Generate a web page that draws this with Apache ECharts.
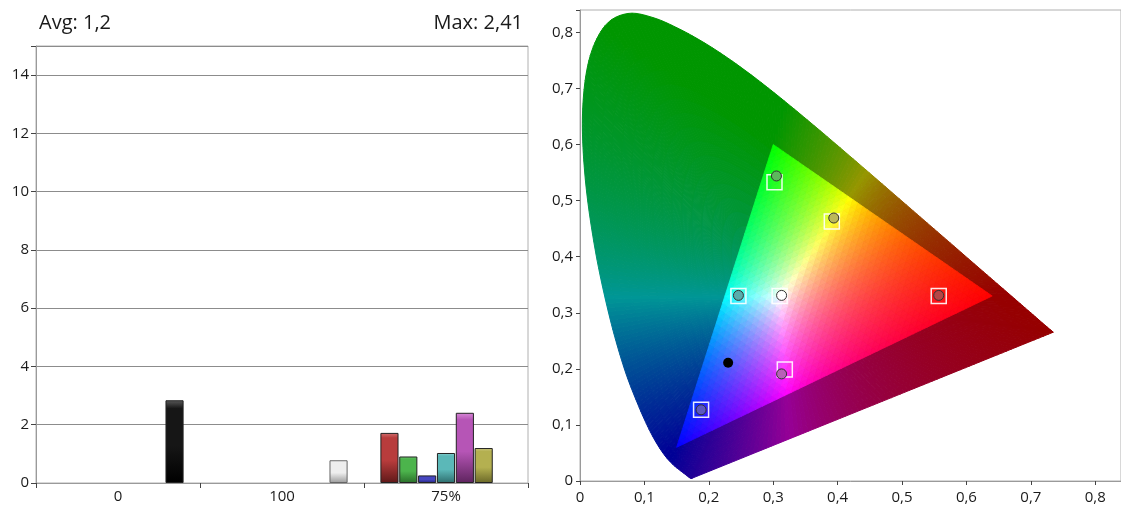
<!DOCTYPE html>
<html><head><meta charset="utf-8">
<script src="https://cdn.jsdelivr.net/npm/echarts@6/dist/echarts.min.js"></script>
<style>html,body{margin:0;padding:0;background:#fff}#c{width:1121px;height:507px}</style>
</head><body><div id="c"></div>
<script>
// ---------------- DATA ----------------
const avgText = 'Avg: 1,2';
const maxText = 'Max: 2,41';
const barCategories = ['0', '100', '75%'];
const barYMax = 15;
const redValues     = ['-', '-', 1.72];
const greenValues   = ['-', '-', 0.91];
const blueValues    = ['-', '-', 0.26];
const cyanValues    = ['-', '-', 1.03];
const magentaValues = ['-', '-', 2.41];
const yellowValues  = ['-', '-', 1.20];
const grayValues    = [2.84, 0.78, '-'];

// CIE 1931 spectral locus, 380..700 nm step 5
const locusX = [0.1741,0.1740,0.1738,0.1736,0.1733,0.1730,0.1726,0.1721,0.1714,0.1703,0.1689,0.1669,0.1644,0.1611,0.1566,0.1510,0.1440,0.1355,0.1241,0.1096,0.0913,0.0687,0.0454,0.0235,0.0082,0.0039,0.0139,0.0389,0.0743,0.1142,0.1547,0.1929,0.2296,0.2658,0.3016,0.3373,0.3731,0.4087,0.4441,0.4788,0.5125,0.5448,0.5752,0.6029,0.6270,0.6482,0.6658,0.6801,0.6915,0.7006,0.7079,0.7140,0.7190,0.7230,0.7260,0.7283,0.7300,0.7311,0.7320,0.7327,0.7334,0.7340,0.7344,0.7346,0.7347];
const locusY = [0.0050,0.0050,0.0049,0.0049,0.0048,0.0048,0.0048,0.0048,0.0051,0.0058,0.0069,0.0086,0.0109,0.0138,0.0177,0.0227,0.0297,0.0399,0.0578,0.0868,0.1327,0.2007,0.2950,0.4127,0.5384,0.6548,0.7502,0.8120,0.8338,0.8262,0.8059,0.7816,0.7543,0.7243,0.6923,0.6589,0.6245,0.5896,0.5547,0.5202,0.4866,0.4544,0.4242,0.3965,0.3725,0.3514,0.3340,0.3197,0.3083,0.2993,0.2920,0.2859,0.2809,0.2770,0.2740,0.2717,0.2700,0.2689,0.2680,0.2673,0.2666,0.2660,0.2656,0.2654,0.2653];
const gamutX = [0.64, 0.30, 0.15];   // R, G, B primaries
const gamutY = [0.33, 0.60, 0.06];
const whiteX = 0.3127, whiteY = 0.3290;

// targets: R, G, B, C, M, Y, W
const targetX = [0.557, 0.302, 0.188, 0.246, 0.318, 0.391, 0.310];
const targetY = [0.330, 0.533, 0.127, 0.330, 0.199, 0.463, 0.330];
// measured
const measX = [0.557, 0.305, 0.188, 0.246, 0.313, 0.394, 0.313];
const measY = [0.331, 0.544, 0.127, 0.331, 0.191, 0.469, 0.331];
const blackX = [0.230];
const blackY = [0.211];

// ---------------- STYLE ----------------
const FONT = 'Open Sans';
const TXT = '#1a1a1a';
const barStyles = [
  ['#d27070', '#b83c3c', '#5e1818'],
  ['#74c874', '#4cb44c', '#2a6e2a'],
  ['#7070d8', '#4646c0', '#22227a'],
  ['#8ad0d0', '#5bb8b8', '#2e6e6e'],
  ['#d88ad8', '#b655b6', '#5e245e'],
  ['#cec880', '#b4b050', '#6a6828']
];
const grayStyles = [['#5a5a5a', '#161616', '#000000'], ['#ffffff', '#eeeeee', '#9a9a9a'], ['#fff', '#fff', '#fff']];
const grayBorders = ['#222', '#666', '#222'];
const measColors = ['#b44646', '#5cb85c', '#5c58c0', '#5aacac', '#b860b8', '#bcb85a', '#ffffff'];

function grad(s) {
  return new echarts.graphic.LinearGradient(0, 0, 0, 1, [
    {offset: 0, color: s[0]}, {offset: 0.1, color: s[1]},
    {offset: 0.55, color: s[1]}, {offset: 1, color: s[2]}]);
}

function xyColor(x, y, dark) {
  const X = x / y, Y = 1, Z = (1 - x - y) / y;
  let r = 3.2406 * X - 1.5372 * Y - 0.4986 * Z;
  let g = -0.9689 * X + 1.8758 * Y + 0.0415 * Z;
  let b = 0.0557 * X - 0.2040 * Y + 1.0570 * Z;
  r = Math.max(r, 0); g = Math.max(g, 0); b = Math.max(b, 0);
  const m = Math.max(r, g, b) || 1;
  const e = dark ? 0.85 : 0.9, f = dark ? 0.59 : 1;
  const c = v => Math.round(255 * f * Math.pow(v / m, e));
  return 'rgb(' + c(r) + ',' + c(g) + ',' + c(b) + ')';
}

// smooth boundary sampling (Catmull-Rom through the locus points)
function crPoint(p0, p1, p2, p3, t) {
  const t2 = t * t, t3 = t2 * t;
  return [0, 1].map(k => 0.5 * ((2 * p1[k]) + (-p0[k] + p2[k]) * t +
    (2 * p0[k] - 5 * p1[k] + 4 * p2[k] - p3[k]) * t2 + (-p0[k] + 3 * p1[k] - 3 * p2[k] + p3[k]) * t3));
}

function gamutRender(params, api) {
  const children = [];
  const W = [whiteX, whiteY];
  const pts = locusX.map((x, i) => [x, locusY[i]]);
  const bnd = [];
  const L = pts.length;
  for (let i = 0; i < L - 1; i++) {
    const p0 = pts[Math.max(i - 1, 0)], p1 = pts[i], p2 = pts[i + 1], p3 = pts[Math.min(i + 2, L - 1)];
    const d = Math.hypot(p2[0] - p1[0], p2[1] - p1[1]);
    if (d < 1e-6) continue;
    const n = Math.max(1, Math.ceil(d / 0.008));
    for (let s = 0; s < n; s++) bnd.push(crPoint(p0, p1, p2, p3, s / n));
  }
  // purple line back to start
  const a = pts[L - 1], c = pts[0];
  const dp = Math.hypot(c[0] - a[0], c[1] - a[1]);
  const np = Math.ceil(dp / 0.008);
  for (let s = 0; s < np; s++) bnd.push([a[0] + (c[0] - a[0]) * s / np, a[1] + (c[1] - a[1]) * s / np]);
  bnd.push(bnd[0]);
  const rings = [0, 0.2];
  for (let t = 0.25; t <= 1.0001; t += 0.05) rings.push(Math.min(t, 1));
  const lerp = (p, t) => [W[0] + (p[0] - W[0]) * t, W[1] + (p[1] - W[1]) * t];
  for (let i = 0; i < bnd.length - 1; i++) {
    const A = bnd[i], C = bnd[i + 1];
    const M = [(A[0] + C[0]) / 2, (A[1] + C[1]) / 2];
    for (let k = 0; k < rings.length - 1; k++) {
      const t0 = rings[k], t1 = rings[k + 1];
      const cp = lerp(M, (t0 + t1) / 2);
      const col = xyColor(cp[0], cp[1], true);
      children.push({type: 'polygon', silent: true,
        shape: {points: [lerp(A, t0), lerp(A, t1), lerp(C, t1), lerp(C, t0)].map(p => api.coord(p))},
        style: {fill: col, stroke: col, lineWidth: 1}});
    }
  }
  // gamut triangle
  const R = [gamutX[0], gamutY[0]], G = [gamutX[1], gamutY[1]], B = [gamutX[2], gamutY[2]];
  const N = 44;
  const P = (i, j) => [B[0] + (R[0] - B[0]) * i / N + (G[0] - B[0]) * j / N,
                       B[1] + (R[1] - B[1]) * i / N + (G[1] - B[1]) * j / N];
  const tri = (a, b, c) => {
    const cx = (a[0] + b[0] + c[0]) / 3, cy = (a[1] + b[1] + c[1]) / 3;
    const col = xyColor(cx, cy, false);
    children.push({type: 'polygon', silent: true,
      shape: {points: [a, b, c].map(p => api.coord(p))},
      style: {fill: col, stroke: col, lineWidth: 0.8}});
  };
  for (let i = 0; i < N; i++) {
    for (let j = 0; j < N - i; j++) {
      tri(P(i, j), P(i + 1, j), P(i, j + 1));
      if (i + j < N - 1) tri(P(i + 1, j), P(i + 1, j + 1), P(i, j + 1));
    }
  }
  return {type: 'group', children};
}

const fmtDec = v => {
  if (Math.abs(v * 10 - Math.round(v * 10)) > 1e-6) return '';
  return v === 0 ? '0' : v.toFixed(1).replace('.', ',');
};

const barData = [redValues, greenValues, blueValues, cyanValues, magentaValues, yellowValues];
const barSeries = barData.map((vals, i) => ({
  type: 'bar', xAxisIndex: 0, yAxisIndex: 0, data: vals,
  barGap: '4%', barCategoryGap: '20%',
  itemStyle: {color: grad(barStyles[i]), borderColor: '#222', borderWidth: 1}
}));
barSeries.push({
  type: 'bar', xAxisIndex: 0, yAxisIndex: 0,
  data: grayValues.map((v, i) => ({value: v, itemStyle: {color: grad(grayStyles[i]), borderColor: grayBorders[i], borderWidth: 1}})),
  barGap: '4%', barCategoryGap: '20%'
});

const axisLbl = {color: TXT, fontFamily: FONT, fontSize: 15};
const option = {
  animation: false,
  backgroundColor: '#fff',
  title: [
    {text: avgText, left: 34, top: 8, textStyle: {color: TXT, fontFamily: FONT, fontSize: 20, fontWeight: 'normal'}},
    {text: maxText, right: 593, top: 8, textStyle: {color: TXT, fontFamily: FONT, fontSize: 20, fontWeight: 'normal'}}
  ],
  grid: [
    {left: 36, top: 46, width: 492, height: 437, show: true, borderColor: '#b0b0b0', borderWidth: 1, outerBoundsMode: 'none', containLabel: false},
    {left: 580, top: 10, width: 541, height: 471, show: true, borderColor: '#b0b0b0', borderWidth: 1, outerBoundsMode: 'none', containLabel: false}
  ],
  xAxis: [
    {gridIndex: 0, type: 'category', data: barCategories,
     axisLine: {lineStyle: {color: '#9a9a9a'}},
     axisTick: {show: true, length: 5, lineStyle: {color: '#444'}},
     axisLabel: Object.assign({margin: 6}, axisLbl), splitLine: {show: false}},
    {gridIndex: 1, type: 'value', min: 0, max: 0.84, interval: 0.1,
     axisLine: {show: true, lineStyle: {color: '#9a9a9a'}},
     axisTick: {show: true, length: 4, lineStyle: {color: '#444'}},
     axisLabel: Object.assign({margin: 9, formatter: fmtDec}, axisLbl), splitLine: {show: false}}
  ],
  yAxis: [
    {gridIndex: 0, type: 'value', min: 0, max: barYMax, interval: 2,
     axisLine: {show: true, lineStyle: {color: '#9a9a9a'}},
     axisTick: {show: true, length: 5, lineStyle: {color: '#444'}},
     axisLabel: Object.assign({margin: 7, formatter: v => (v % 2 === 0 && v <= 14) ? String(v) : ''}, axisLbl),
     splitLine: {show: true, lineStyle: {color: '#8c8c8c', width: 1}}},
    {gridIndex: 1, type: 'value', min: 0, max: 0.84, interval: 0.1,
     axisLine: {show: true, lineStyle: {color: '#9a9a9a'}},
     axisTick: {show: true, length: 4, lineStyle: {color: '#444'}},
     axisLabel: Object.assign({margin: 7, formatter: fmtDec}, axisLbl), splitLine: {show: false}}
  ],
  series: barSeries.concat([
    {type: 'custom', xAxisIndex: 1, yAxisIndex: 1, data: [[0, 0]], renderItem: gamutRender, silent: true, z: 1, clip: false},
    {type: 'scatter', xAxisIndex: 1, yAxisIndex: 1, z: 3, symbol: 'rect', symbolSize: 15,
     data: targetX.map((x, i) => [x, targetY[i]]),
     itemStyle: {color: 'rgba(0,0,0,0)', borderColor: 'rgba(255,255,255,0.9)', borderWidth: 1.5, opacity: 1}},
    {type: 'scatter', xAxisIndex: 1, yAxisIndex: 1, z: 4, symbol: 'circle', symbolSize: 10,
     data: measX.map((x, i) => [x, measY[i]]),
     itemStyle: {color: p => measColors[p.dataIndex], borderColor: '#333', borderWidth: 1, opacity: 1}},
    {type: 'scatter', xAxisIndex: 1, yAxisIndex: 1, z: 4, symbol: 'circle', symbolSize: 10,
     data: blackX.map((x, i) => [x, blackY[i]]),
     itemStyle: {color: '#000', borderColor: '#000', borderWidth: 0, opacity: 1}}
  ])
};
const chart = echarts.init(document.getElementById('c'), null, {renderer: 'canvas'});
chart.setOption(option);
</script></body></html>
